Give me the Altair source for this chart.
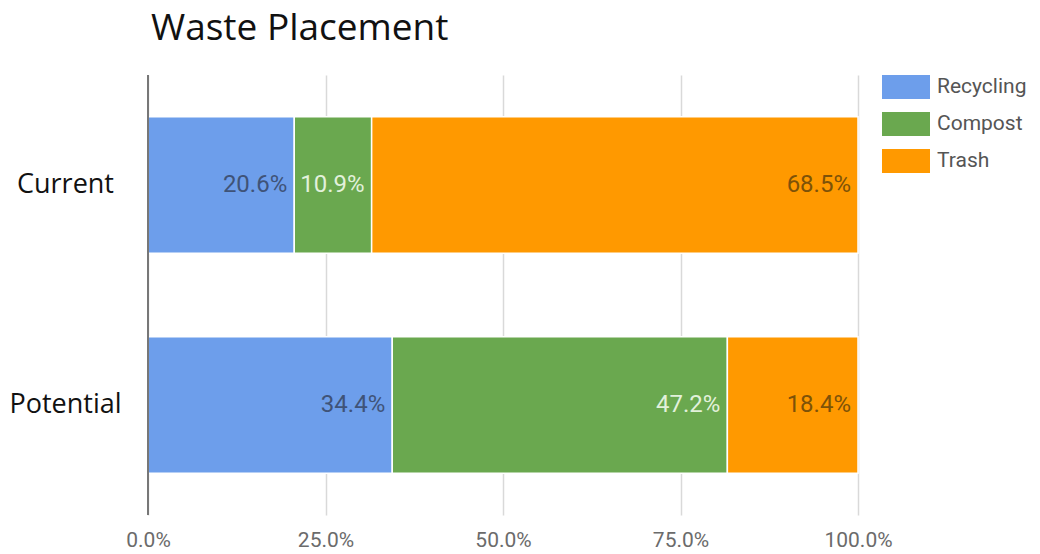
import altair as alt
import pandas as pd

groups = ["Current", "Current", "Current", "Potential", "Potential", "Potential"]
types = ["Recycling", "Compost", "Trash", "Recycling", "Compost", "Trash"]
values = [20.6, 10.9, 68.5, 34.4, 47.2, 18.4]
order_idx = [0, 1, 2, 0, 1, 2]

type_names = ["Recycling", "Compost", "Trash"]
type_colors = ["#6d9eeb", "#6aa84f", "#ff9900"]
label_colors = ["#3f5378", "#e2f1db", "#7d5208"]

df = pd.DataFrame({"group": groups, "type": types, "value": values, "ord": order_idx})
df["frac"] = df["value"] / 100.0
df["label"] = df["value"].map(lambda v: f"{v:.1f}%")

base = alt.Chart(df).transform_stack(
    stack="frac", groupby=["group"], sort=[alt.SortField("ord")], as_=["x0", "x1"]
)

y_enc = alt.Y(
    "group:N",
    sort=["Current", "Potential"],
    title=None,
    scale=alt.Scale(paddingInner=0.38, paddingOuter=0.19),
    axis=alt.Axis(
        labelFont="Open Sans", labelFontSize=27, labelColor="#111111",
        labelAlign="center", labelPadding=83, ticks=False, domain=False,
    ),
)

bars = base.mark_bar(stroke="white", strokeWidth=1.5).encode(
    x=alt.X(
        "x0:Q",
        scale=alt.Scale(domain=[0, 1], nice=False),
        title=None,
        axis=alt.Axis(
            format=".1%", values=[0, 0.25, 0.5, 0.75, 1.0],
            labelFont="Roboto", labelFontSize=21, labelColor="#6b6b6b",
            labelPadding=14, labelFlush=False, domain=False, ticks=False,
            grid=True, gridColor="#d9d9d9", gridWidth=1.5,
        ),
    ),
    x2="x1:Q",
    y=y_enc,
    color=alt.Color(
        "type:N",
        scale=alt.Scale(domain=type_names, range=type_colors),
        legend=alt.Legend(
            title=None, orient="none", legendX=746, legendY=0,
            symbolType="M-2,-1H2V1H-2Z", symbolSize=576,
            symbolStrokeWidth=0, symbolOpacity=1,
            labelFont="Roboto", labelFontSize=21, labelColor="#555555",
            labelOffset=19, rowPadding=13,
        ),
    ),
)

labels = base.mark_text(
    align="right", baseline="middle", dx=-7, font="Roboto", fontSize=24
).encode(
    x="x1:Q",
    y=alt.Y("group:N", sort=["Current", "Potential"]),
    text="label:N",
    color=alt.Color("type:N", scale=alt.Scale(domain=type_names, range=label_colors), legend=None),
)

zero_line = alt.Chart(pd.DataFrame({"z": [0]})).mark_rule(color="#777777", strokeWidth=2).encode(
    x="z:Q"
)

chart = (
    alt.layer(bars, labels, zero_line)
    .resolve_scale(color="independent")
    .properties(
        width=710,
        height=440,
        title=alt.TitleParams(
            "Waste Placement", anchor="start", frame="group", font="Open Sans",
            fontSize=37, fontWeight="normal", color="#111111", offset=26, dx=3,
        ),
        autosize=alt.AutoSizeParams(type="none"),
        padding={"left": 140, "top": 67, "right": 174, "bottom": 39},
    )
    .configure_view(stroke=None)
)

chart.save("out.html", embed_options={"renderer": "svg", "actions": False})
